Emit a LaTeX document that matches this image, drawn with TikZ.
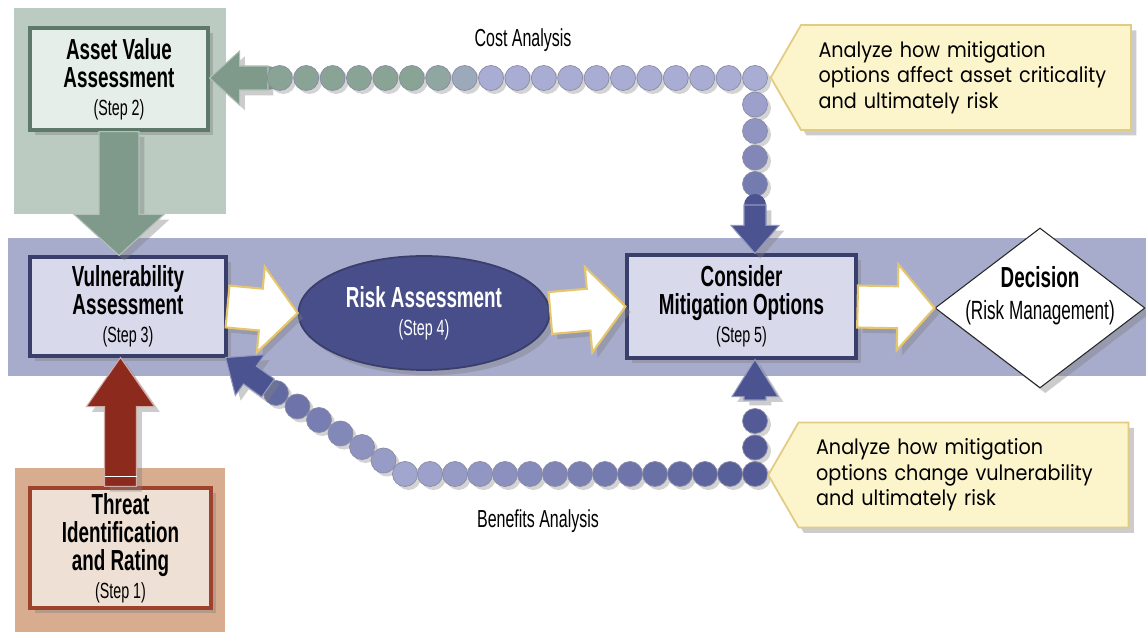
\documentclass[tikz,border=0pt]{standalone}
\usepackage{fontspec}
\setmainfont{Liberation Sans}
\newfontfamily\condfont[FakeStretch=0.65]{Liberation Sans}
\newfontfamily\notefont[FakeStretch=0.91]{Poppins}
\usetikzlibrary{calc,positioning,shapes.geometric,shapes.symbols,shadows}

\definecolor{bandblue}{HTML}{A7ACCD}
\definecolor{sagebg}{HTML}{BBCBC1}
\definecolor{sagefill}{HTML}{E6EEEA}
\definecolor{sageline}{HTML}{5E786A}
\definecolor{sagearrow}{HTML}{7F9A8B}
\definecolor{tanbg}{HTML}{D8AC8E}
\definecolor{tanfill}{HTML}{EEE0D4}
\definecolor{rustline}{HTML}{9E412D}
\definecolor{rustarrow}{HTML}{8C2A1E}
\definecolor{lilacfill}{HTML}{D8D9EA}
\definecolor{navyline}{HTML}{3A3E6A}
\definecolor{navyfill}{HTML}{474E8A}
\definecolor{navyarrow}{HTML}{4B5391}
\definecolor{goldline}{HTML}{E6C66C}
\definecolor{notefill}{HTML}{FCF4CB}
\definecolor{noteline}{HTML}{E2CB82}
\definecolor{dotlilac}{HTML}{A9ADD3}
\definecolor{dotsage}{HTML}{89A495}

\newcommand{\steplabel}[1]{{\mdseries\fontsize{12.5}{14}\selectfont #1}}
% fat arrow: [style]{from}{to}{shaft half width}{head half width}{head length}
\newcommand{\fatarrow}[6][]{%
  \path[#1] let \p1=(#2), \p2=(#3), \n1={atan2(\y2-\y1,\x2-\x1)} in
    ($(\p1)+({\n1-90}:#4)$) -- ($(\p2)+(\n1:-#6)+({\n1-90}:#4)$)
    -- ($(\p2)+(\n1:-#6)+({\n1-90}:#5)$) -- (\p2)
    -- ($(\p2)+(\n1:-#6)+({\n1+90}:#5)$) -- ($(\p2)+(\n1:-#6)+({\n1+90}:#4)$)
    -- ($(\p1)+({\n1+90}:#4)$) -- cycle;}

\begin{document}
\begin{tikzpicture}[x=0.02cm, y=0.02cm,
  shade/.style={drop shadow={shadow xshift=3pt, shadow yshift=-3pt, opacity=.4}},
  stepbox/.style={shade, draw, line width=1.8pt, align=center, inner sep=0pt,
    font=\condfont\bfseries\fontsize{16.5}{16}\selectfont},
  notebox/.style={shade, shape=signal, signal to=west, signal pointer angle=120,
    fill=notefill, draw=noteline, line width=1pt, text width=5.9cm, inner xsep=0.35cm,
    minimum height=2.1cm, align=left, font=\notefont\fontsize{12}{14.5}\selectfont},
  pathlabel/.style={font=\condfont\fontsize{14}{14}\selectfont},
  whiteshape/.style={shade, fill=white, draw=goldline, line width=1.2pt},
  sageshape/.style={shade, fill=sagearrow, draw=sagearrow!60!white, line width=.6pt},
  rustshape/.style={shade, fill=rustarrow, draw=rustarrow!40!white, line width=.6pt},
  navyshape/.style={shade, fill=navyarrow, draw=navyarrow!60!white, line width=.6pt},
  dot/.style={drop shadow={shadow xshift=2pt, shadow yshift=-2pt, opacity=.35},
    draw=navyline!60, line width=.4pt}]
\useasboundingbox (0,0) rectangle (1146,-634);

% backgrounds
\fill[bandblue] (8,-238) rectangle (1146,-376);
\fill[sagebg] (14,-8) rectangle (226,-214);
\fill[tanbg] (15,-468) rectangle (225,-632);

% steps
\node[stepbox, fill=sagefill, draw=sageline, minimum width=3.56cm, minimum height=2.04cm]
  (asset) at (119,-79) {Asset Value\\Assessment\\\steplabel{(Step 2)}};
\node[stepbox, fill=lilacfill, draw=navyline, minimum width=3.92cm, minimum height=1.98cm]
  (vuln) at (128,-306.5) {Vulnerability\\Assessment\\\steplabel{(Step 3)}};
\node[stepbox, fill=tanfill, draw=rustline, minimum width=3.62cm, minimum height=2.4cm]
  (threat) at (120.5,-548) {Threat\\Identification\\and Rating\\\steplabel{(Step 1)}};
\node[stepbox, ellipse, fill=navyfill, draw=navyline, line width=1pt, text=white,
  minimum width=5.02cm, minimum height=2.28cm]
  (risk) at (424,-313) {Risk Assessment\\\steplabel{(Step 4)}};
\node[stepbox, fill=lilacfill, draw=navyline, minimum width=4.58cm, minimum height=2.06cm]
  (consider) at (741.5,-306.5) {Consider\\Mitigation Options\\\steplabel{(Step 5)}};
\node[shade, diamond, draw=black!85, fill=white, line width=.6pt,
  minimum width=4.2cm, minimum height=3.2cm] (decision) at (1040,-308) {};
\node[align=center, font=\condfont\bfseries\fontsize{16.5}{18}\selectfont]
  (decisiontext) at ($(decision.center)+(0,12)$)
  {Decision\\{\mdseries\fontsize{15}{15}\selectfont(Risk Management)}};

% main flow
\fatarrow[sageshape]{asset.south}{asset.south |- vuln.north}{20}{45}{41}
\fatarrow[rustshape]{threat.north}{threat.north |- vuln.south}{16}{34}{49}
\draw[white, line width=1pt] ($(threat.north)+(-16,10)$) -- ++(32,0);
\fatarrow[whiteshape]{vuln.east}{risk.west}{21}{43}{37}
\fatarrow[whiteshape]{risk.east}{consider.west}{21}{43}{37}
\fatarrow[whiteshape]{consider.east}{decision.west}{21}{43}{37}

% cost analysis loop
\coordinate (costcorner) at (755,-78);
\coordinate (costtail) at (268,-78);
\coordinate (costdrop) at (755,-205);
\fill[sagearrow] (costtail) circle (12);
\fatarrow[sageshape]{costtail}{asset.east |- costcorner}{12}{27}{30}
\foreach \i in {18,17,...,0}{
  \pgfmathtruncatemacro\mix{min(100,max(0,(12.5-\i)*40))}
  \fill[dot, fill=dotlilac!\mix!dotsage] ($(costcorner)+(-\i*26.4,0)$) circle (12.5);
}
\foreach \k in {1,...,4}{
  \pgfmathtruncatemacro\mix{\k*14}
  \fill[dot, fill=navyarrow!\mix!dotlilac] ($(costcorner)+(0,-\k*26.5)$) circle (12.5);
}
\fill[navyarrow] (costdrop) circle (11);
\fatarrow[navyshape]{costdrop}{costcorner |- consider.north}{11}{24}{28}
\node[pathlabel] (costlabel) at (523,-40) {Cost Analysis};

% benefits analysis loop
\coordinate (benefitcorner) at (755,-474);
\coordinate (benefitrise) at (755,-400);
\coordinate (benefittail) at (268,-388);
\coordinate (vulntip) at ($(vuln.south east)+(-2,0)$);
\foreach \j in {6,5,...,1}{
  \pgfmathtruncatemacro\mix{8+\j*11}
  \fill[dot, fill=navyarrow!\mix!dotlilac] ($(benefitcorner)+(-350,0)+(-\j*21.5,\j*13.5)$) circle (12.5);
}
\fatarrow[navyshape]{benefittail}{vulntip}{11}{25}{30}
\foreach \i in {14,13,...,0}{
  \pgfmathtruncatemacro\mix{92-\i*6}
  \fill[dot, fill=navyarrow!\mix!dotlilac] ($(benefitcorner)+(-\i*25,0)$) circle (12.5);
}
\foreach \k in {2,1}{
  \fill[dot, fill=navyarrow!92!dotlilac] ($(benefitcorner)+(0,\k*26.5)$) circle (12.5);
}
\fatarrow[navyshape]{benefitrise}{benefitcorner |- consider.south}{11}{23}{37}
\node[pathlabel] (benefitlabel) at (538,-521) {Benefits Analysis};

% notes
\node[notebox] (costnote) at (966,-77.5)
  {Analyze how mitigation\\options affect asset criticality\\and ultimately risk};
\node[notebox] (benefitnote) at (963.5,-475)
  {Analyze how mitigation\\options change vulnerability\\and ultimately risk};
\end{tikzpicture}
\end{document}
